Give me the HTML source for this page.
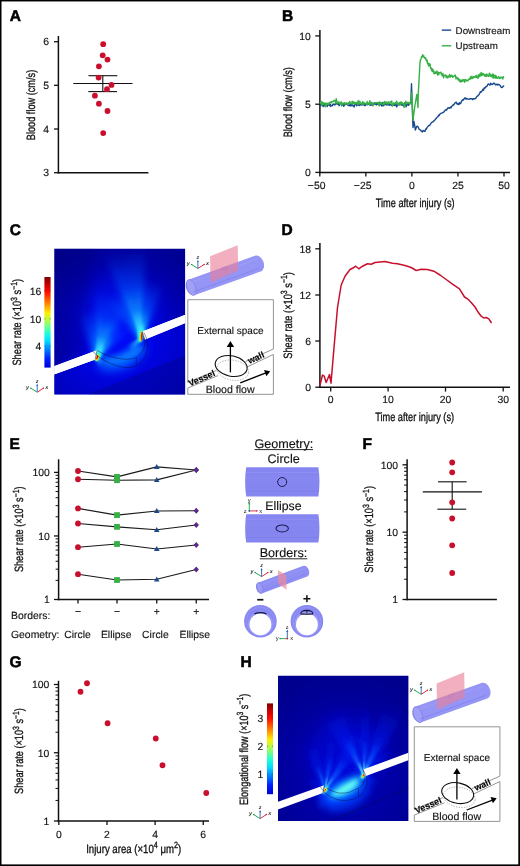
<!DOCTYPE html><html><head><meta charset="utf-8"><title>Figure</title><style>html,body{margin:0;padding:0;background:#fff;}svg{display:block;will-change:transform;font-family:"Liberation Sans",sans-serif;}text{text-rendering:geometricPrecision;stroke:#111;stroke-width:0.14px;}text.ns{stroke:none;}</style></head><body><svg width="520" height="866" viewBox="0 0 520 866"><rect x="0" y="0" width="520" height="866" fill="#fff"/>
<text x="9.70" y="21.40" font-size="15.5" text-anchor="start" font-weight="bold" fill="#000" style="stroke:#000;stroke-width:0.55px">A</text>
<text x="282.00" y="21.40" font-size="15.5" text-anchor="start" font-weight="bold" fill="#000" style="stroke:#000;stroke-width:0.55px">B</text>
<text x="9.70" y="235.00" font-size="15.5" text-anchor="start" font-weight="bold" fill="#000" style="stroke:#000;stroke-width:0.55px">C</text>
<text x="281.60" y="234.80" font-size="15.5" text-anchor="start" font-weight="bold" fill="#000" style="stroke:#000;stroke-width:0.55px">D</text>
<text x="9.40" y="449.30" font-size="15.5" text-anchor="start" font-weight="bold" fill="#000" style="stroke:#000;stroke-width:0.55px">E</text>
<text x="362.40" y="449.30" font-size="15.5" text-anchor="start" font-weight="bold" fill="#000" style="stroke:#000;stroke-width:0.55px">F</text>
<text x="9.60" y="667.20" font-size="15.5" text-anchor="start" font-weight="bold" fill="#000" style="stroke:#000;stroke-width:0.55px">G</text>
<text x="240.40" y="667.20" font-size="15.5" text-anchor="start" font-weight="bold" fill="#000" style="stroke:#000;stroke-width:0.55px">H</text>
<line x1="58.40" y1="36.00" x2="58.40" y2="173.45" stroke="#111" stroke-width="1.5" />
<line x1="57.70" y1="172.70" x2="148.40" y2="172.70" stroke="#111" stroke-width="1.5" />
<line x1="54.00" y1="41.70" x2="58.40" y2="41.70" stroke="#111" stroke-width="1.3" />
<text x="49.10" y="45.45" font-size="10.4" text-anchor="end" fill="#111" >6</text>
<line x1="54.00" y1="85.30" x2="58.40" y2="85.30" stroke="#111" stroke-width="1.3" />
<text x="49.10" y="89.05" font-size="10.4" text-anchor="end" fill="#111" >5</text>
<line x1="54.00" y1="129.00" x2="58.40" y2="129.00" stroke="#111" stroke-width="1.3" />
<text x="49.10" y="132.75" font-size="10.4" text-anchor="end" fill="#111" >4</text>
<line x1="54.00" y1="172.70" x2="58.40" y2="172.70" stroke="#111" stroke-width="1.3" />
<text x="49.10" y="176.45" font-size="10.4" text-anchor="end" fill="#111" >3</text>
<line x1="73.30" y1="83.50" x2="132.50" y2="83.50" stroke="#111" stroke-width="1.1" />
<line x1="88.50" y1="75.70" x2="117.30" y2="75.70" stroke="#111" stroke-width="1.1" />
<line x1="88.30" y1="91.60" x2="117.00" y2="91.60" stroke="#111" stroke-width="1.1" />
<line x1="102.80" y1="75.70" x2="102.80" y2="91.60" stroke="#111" stroke-width="1.1" />
<circle cx="103.20" cy="44.20" r="2.9" fill="#c8102e"/>
<circle cx="102.70" cy="55.30" r="2.9" fill="#c8102e"/>
<circle cx="107.50" cy="59.60" r="2.9" fill="#c8102e"/>
<circle cx="98.90" cy="66.30" r="2.9" fill="#c8102e"/>
<circle cx="98.60" cy="77.60" r="2.9" fill="#c8102e"/>
<circle cx="111.50" cy="84.90" r="2.9" fill="#c8102e"/>
<circle cx="107.00" cy="89.20" r="2.9" fill="#c8102e"/>
<circle cx="94.90" cy="95.70" r="2.9" fill="#c8102e"/>
<circle cx="98.90" cy="103.70" r="2.9" fill="#c8102e"/>
<circle cx="107.50" cy="111.00" r="2.9" fill="#c8102e"/>
<circle cx="103.20" cy="133.10" r="2.9" fill="#c8102e"/>
<g transform="translate(34.50,105.00) rotate(-90) scale(0.7650,1)"><text x="0" y="0" font-size="12" text-anchor="middle" fill="#111" style="stroke-width:0.32px">Blood flow (cm/s)</text></g>
<line x1="319.90" y1="30.10" x2="319.90" y2="173.15" stroke="#111" stroke-width="1.5" />
<line x1="319.20" y1="172.40" x2="510.00" y2="172.40" stroke="#111" stroke-width="1.5" />
<line x1="315.30" y1="35.90" x2="319.90" y2="35.90" stroke="#111" stroke-width="1.3" />
<text x="310.70" y="39.65" font-size="10.4" text-anchor="end" fill="#111" >10</text>
<line x1="315.30" y1="104.20" x2="319.90" y2="104.20" stroke="#111" stroke-width="1.3" />
<text x="310.70" y="107.95" font-size="10.4" text-anchor="end" fill="#111" >5</text>
<line x1="315.30" y1="172.40" x2="319.90" y2="172.40" stroke="#111" stroke-width="1.3" />
<text x="310.70" y="176.15" font-size="10.4" text-anchor="end" fill="#111" >0</text>
<line x1="319.80" y1="172.40" x2="319.80" y2="176.60" stroke="#111" stroke-width="1.3" />
<text x="319.80" y="189.20" font-size="10.4" text-anchor="middle" fill="#111" >50</text>
<text x="313.72" y="189.20" font-size="10.4" text-anchor="end" fill="#111" >−</text>
<line x1="365.85" y1="172.40" x2="365.85" y2="176.60" stroke="#111" stroke-width="1.3" />
<text x="365.85" y="189.20" font-size="10.4" text-anchor="middle" fill="#111" >25</text>
<text x="359.77" y="189.20" font-size="10.4" text-anchor="end" fill="#111" >−</text>
<line x1="411.90" y1="172.40" x2="411.90" y2="176.60" stroke="#111" stroke-width="1.3" />
<text x="411.90" y="189.20" font-size="10.4" text-anchor="middle" fill="#111" >0</text>
<line x1="457.95" y1="172.40" x2="457.95" y2="176.60" stroke="#111" stroke-width="1.3" />
<text x="457.95" y="189.20" font-size="10.4" text-anchor="middle" fill="#111" >25</text>
<line x1="504.00" y1="172.40" x2="504.00" y2="176.60" stroke="#111" stroke-width="1.3" />
<text x="504.00" y="189.20" font-size="10.4" text-anchor="middle" fill="#111" >50</text>
<g transform="translate(415.20,206.90) scale(0.7667,1)"><text x="0" y="0" font-size="12" text-anchor="middle" fill="#111" style="stroke-width:0.32px">Time after injury (s)</text></g>
<g transform="translate(291.80,102.20) rotate(-90) scale(0.7628,1)"><text x="0" y="0" font-size="12" text-anchor="middle" fill="#111" style="stroke-width:0.32px">Blood flow (cm/s)</text></g>
<line x1="441.80" y1="30.10" x2="451.20" y2="30.10" stroke="#184a8e" stroke-width="1.4" />
<text x="455.60" y="33.60" font-size="9.75" text-anchor="start" fill="#111" >Downstream</text>
<line x1="441.80" y1="45.80" x2="451.20" y2="45.80" stroke="#37b046" stroke-width="1.4" />
<text x="455.60" y="49.30" font-size="9.75" text-anchor="start" fill="#111" >Upstream</text>
<path d="M320.2,106.0 L320.8,104.0 L321.2,104.1 L321.8,103.7 L322.2,105.6 L322.8,102.7 L323.2,106.6 L323.8,104.3 L324.2,105.4 L324.8,104.9 L325.2,106.6 L325.8,103.3 L326.2,105.0 L326.8,105.0 L327.2,106.5 L327.8,104.4 L328.2,105.2 L328.8,104.5 L329.2,105.3 L329.8,105.8 L330.2,104.1 L330.8,106.2 L331.2,105.9 L331.8,105.5 L332.2,105.8 L332.8,104.2 L333.2,104.7 L333.8,103.9 L334.2,104.4 L334.8,105.1 L335.2,103.9 L335.8,104.1 L336.2,103.8 L336.8,103.6 L337.2,103.7 L337.8,104.3 L338.2,103.1 L338.8,104.4 L339.2,105.7 L339.8,104.7 L340.2,103.8 L340.8,103.2 L341.2,103.4 L341.8,105.7 L342.2,104.2 L342.8,103.6 L343.2,104.4 L343.8,106.3 L344.2,104.5 L344.8,105.0 L345.2,104.7 L345.8,104.1 L346.2,103.4 L346.8,104.2 L347.2,104.4 L347.8,105.2 L348.2,105.5 L348.8,105.6 L349.2,105.0 L349.8,105.6 L350.2,104.1 L350.8,106.1 L351.2,105.4 L351.8,104.7 L352.2,105.4 L352.8,104.9 L353.2,106.0 L353.8,106.4 L354.2,107.0 L354.8,103.6 L355.2,103.5 L355.8,104.4 L356.2,105.0 L356.8,105.7 L357.2,105.1 L357.8,102.9 L358.2,104.5 L358.8,105.5 L359.2,104.9 L359.8,105.4 L360.2,104.5 L360.8,104.5 L361.2,104.8 L361.8,105.0 L362.2,104.8 L362.8,104.7 L363.2,103.9 L363.8,104.9 L364.2,104.6 L364.8,105.6 L365.2,105.6 L365.8,104.6 L366.2,104.1 L366.8,103.8 L367.2,104.8 L367.8,104.5 L368.2,104.0 L368.8,104.4 L369.2,103.7 L369.8,105.0 L370.2,103.9 L370.8,105.4 L371.2,104.6 L371.8,104.8 L372.2,103.2 L372.8,104.4 L373.2,104.9 L373.8,103.2 L374.2,103.9 L374.8,104.1 L375.2,102.8 L375.8,104.4 L376.2,104.9 L376.8,103.2 L377.2,104.3 L377.8,102.8 L378.2,104.0 L378.8,102.5 L379.2,105.1 L379.8,104.5 L380.2,104.1 L380.8,103.4 L381.2,105.4 L381.8,106.0 L382.2,102.4 L382.8,105.4 L383.2,105.8 L383.8,104.6 L384.2,103.1 L384.8,105.1 L385.2,104.1 L385.8,103.8 L386.2,103.2 L386.8,104.9 L387.2,105.1 L387.8,103.8 L388.2,104.9 L388.8,103.4 L389.2,105.2 L389.8,104.5 L390.2,104.3 L390.8,104.4 L391.2,105.4 L391.8,105.3 L392.2,105.1 L392.8,104.8 L393.2,104.7 L393.8,105.3 L394.2,104.9 L394.8,105.4 L395.2,104.5 L395.8,102.5 L396.2,105.8 L396.8,106.9 L397.2,105.3 L397.8,104.8 L398.2,104.8 L398.8,104.8 L399.2,105.0 L399.8,103.9 L400.2,104.5 L400.8,104.0 L401.2,105.1 L401.8,104.5 L402.2,105.2 L402.8,104.6 L403.2,105.6 L403.8,104.8 L404.2,106.7 L404.8,102.7 L405.2,103.9 L405.8,105.3 L406.2,106.8 L406.8,104.1 L407.2,104.3 L407.8,104.0 L408.2,105.4 L408.8,103.9 L409.2,104.7 L409.8,103.7 L410.8,102.5 L411.5,83.8 L412.2,105.0 L413.0,127.5 L414.0,121.5 L414.6,124.9 L415.3,130.0 L415.9,128.4 L416.6,126.4 L417.2,126.3 L417.9,126.5 L418.6,128.0 L419.2,129.3 L419.8,129.6 L420.5,129.8 L421.1,130.9 L421.8,131.4 L422.4,131.9 L423.1,130.5 L423.8,130.7 L424.4,131.3 L425.0,131.4 L425.7,128.9 L426.3,129.2 L427.0,127.6 L427.6,126.9 L428.3,126.1 L428.9,125.5 L429.6,125.5 L430.2,124.6 L430.9,123.4 L431.5,122.6 L432.2,122.2 L432.8,121.7 L433.5,121.6 L434.1,120.4 L434.8,120.2 L435.4,119.3 L436.1,118.5 L436.7,117.8 L437.4,116.9 L438.0,116.6 L438.7,115.0 L439.3,115.4 L440.0,114.0 L440.6,113.5 L441.3,113.4 L441.9,113.0 L442.6,112.6 L443.2,112.5 L443.9,111.9 L444.5,111.1 L445.2,110.2 L445.8,109.8 L446.5,110.1 L447.1,109.1 L447.8,108.0 L448.4,108.0 L449.1,107.7 L449.7,108.2 L450.4,107.1 L451.0,107.8 L451.7,106.5 L452.3,105.7 L453.0,104.9 L453.6,105.1 L454.3,103.8 L454.9,102.9 L455.6,102.9 L456.2,102.0 L456.9,103.7 L457.5,104.2 L458.2,103.4 L458.8,104.6 L459.5,102.7 L460.1,103.8 L460.8,103.3 L461.4,101.6 L462.1,100.5 L462.7,99.7 L463.4,100.1 L464.0,98.9 L464.7,98.0 L465.3,97.9 L466.0,99.2 L466.6,98.5 L467.3,98.8 L467.9,99.0 L468.6,99.2 L469.2,99.4 L469.9,98.6 L470.5,98.9 L471.2,98.6 L471.8,98.6 L472.5,99.6 L473.1,98.7 L473.8,99.0 L474.4,98.7 L475.1,98.6 L475.7,98.5 L476.4,97.1 L477.0,96.3 L477.7,96.0 L478.3,95.2 L479.0,94.6 L479.6,93.5 L480.3,91.8 L480.9,92.2 L481.6,91.3 L482.2,90.8 L482.9,89.2 L483.5,90.3 L484.2,87.9 L484.8,88.2 L485.5,87.3 L486.1,86.5 L486.8,86.5 L487.4,85.4 L488.1,84.0 L488.7,84.2 L489.4,84.6 L490.0,85.1 L490.7,83.2 L491.3,83.9 L492.0,84.6 L492.6,84.1 L493.3,83.6 L493.9,83.2 L494.6,83.5 L495.2,84.4 L495.9,85.1 L496.5,84.3 L497.2,84.3 L497.8,85.0 L498.5,84.4 L499.1,84.5 L499.8,85.3 L500.4,85.8 L501.1,87.3 L501.7,87.5 L502.4,87.3 L503.0,86.3 L503.7,85.9" fill="none" stroke="#184a8e" stroke-width="1.4" stroke-linejoin="round" stroke-linecap="round"/>
<path d="M320.2,103.1 L320.8,103.5 L321.2,101.5 L321.8,105.4 L322.2,102.0 L322.8,103.1 L323.2,104.5 L323.8,102.8 L324.2,103.1 L324.8,103.3 L325.2,104.9 L325.8,106.7 L326.2,104.5 L326.8,103.2 L327.2,104.6 L327.8,103.3 L328.2,103.7 L328.8,104.7 L329.2,102.6 L329.8,103.1 L330.2,102.0 L330.8,102.5 L331.2,102.8 L331.8,101.4 L332.2,101.9 L332.8,101.8 L333.2,101.3 L333.8,100.6 L334.2,100.2 L334.8,101.3 L335.2,101.0 L335.8,103.4 L336.2,98.6 L336.8,101.4 L337.2,102.0 L337.8,103.4 L338.2,102.8 L338.8,101.8 L339.2,103.0 L339.8,103.9 L340.2,103.2 L340.8,104.3 L341.2,101.6 L341.8,105.2 L342.2,104.9 L342.8,103.1 L343.2,104.0 L343.8,103.5 L344.2,102.6 L344.8,103.5 L345.2,104.4 L345.8,103.0 L346.2,103.0 L346.8,103.3 L347.2,103.8 L347.8,104.6 L348.2,102.7 L348.8,103.8 L349.2,103.5 L349.8,101.4 L350.2,102.9 L350.8,103.2 L351.2,103.2 L351.8,103.6 L352.2,101.2 L352.8,103.3 L353.2,102.6 L353.8,101.8 L354.2,103.7 L354.8,103.9 L355.2,102.5 L355.8,104.0 L356.2,102.8 L356.8,103.2 L357.2,102.1 L357.8,104.7 L358.2,100.5 L358.8,103.0 L359.2,103.8 L359.8,101.1 L360.2,102.9 L360.8,103.0 L361.2,103.9 L361.8,104.3 L362.2,102.7 L362.8,101.7 L363.2,104.4 L363.8,104.2 L364.2,102.6 L364.8,103.4 L365.2,103.4 L365.8,103.6 L366.2,103.3 L366.8,104.5 L367.2,101.4 L367.8,104.2 L368.2,103.5 L368.8,102.9 L369.2,104.3 L369.8,100.8 L370.2,104.4 L370.8,103.6 L371.2,102.1 L371.8,103.7 L372.2,103.0 L372.8,105.9 L373.2,105.2 L373.8,103.8 L374.2,102.7 L374.8,102.8 L375.2,103.1 L375.8,102.9 L376.2,102.5 L376.8,102.9 L377.2,103.2 L377.8,103.0 L378.2,102.8 L378.8,102.5 L379.2,106.0 L379.8,101.9 L380.2,102.4 L380.8,103.8 L381.2,103.0 L381.8,103.8 L382.2,104.1 L382.8,104.6 L383.2,104.0 L383.8,102.3 L384.2,104.3 L384.8,101.4 L385.2,103.1 L385.8,102.7 L386.2,102.1 L386.8,103.7 L387.2,102.9 L387.8,104.1 L388.2,101.6 L388.8,103.9 L389.2,103.5 L389.8,103.1 L390.2,101.6 L390.8,102.8 L391.2,101.5 L391.8,101.0 L392.2,106.3 L392.8,104.0 L393.2,104.9 L393.8,102.7 L394.2,103.8 L394.8,103.8 L395.2,103.7 L395.8,103.1 L396.2,102.9 L396.8,101.1 L397.2,103.8 L397.8,103.6 L398.2,104.3 L398.8,102.9 L399.2,105.0 L399.8,102.8 L400.2,102.0 L400.8,104.2 L401.2,102.8 L401.8,102.0 L402.2,103.3 L402.8,103.9 L403.2,103.4 L403.8,103.7 L404.2,107.3 L404.8,104.0 L405.2,104.7 L405.8,101.1 L406.2,103.5 L406.8,103.9 L407.2,102.7 L407.8,102.2 L408.2,103.4 L408.8,102.7 L409.2,102.4 L409.8,104.2 L411.0,101.2 L411.8,92.5 L413.0,120.0 L415.0,105.0 L416.8,94.5 L418.0,107.5 L418.2,95.0 L420.0,62.9 L420.4,59.8 L420.8,59.4 L421.1,58.8 L421.5,56.7 L421.9,57.1 L422.2,56.7 L422.6,54.6 L423.0,57.0 L423.4,56.5 L423.8,55.8 L424.1,56.8 L424.5,58.0 L424.9,57.8 L425.2,58.3 L425.6,57.7 L426.0,60.2 L426.4,60.3 L426.8,61.1 L427.1,59.9 L427.5,63.7 L427.9,62.9 L428.2,62.9 L428.6,66.0 L429.0,64.5 L429.4,63.8 L429.8,65.4 L430.1,64.2 L430.5,68.3 L430.9,67.6 L431.2,68.0 L431.6,70.6 L432.0,68.6 L432.4,71.5 L432.8,69.3 L433.1,70.9 L433.5,70.5 L433.9,73.4 L434.2,73.8 L434.6,71.9 L435.0,73.3 L435.4,72.4 L435.8,73.3 L436.1,72.2 L436.5,71.3 L436.9,71.1 L437.2,73.2 L437.6,75.1 L438.0,73.0 L438.4,72.2 L438.8,74.6 L439.1,72.9 L439.5,72.7 L439.9,72.8 L440.2,72.6 L440.6,72.8 L441.0,72.1 L441.4,74.4 L441.8,74.2 L442.1,75.8 L442.5,74.6 L442.9,73.5 L443.2,75.7 L443.6,77.8 L444.0,75.9 L444.4,75.4 L444.8,75.1 L445.1,75.2 L445.5,75.9 L445.9,75.1 L446.2,77.7 L446.6,76.0 L447.0,76.4 L447.4,77.7 L447.8,77.8 L448.1,76.0 L448.5,76.6 L448.9,77.0 L449.2,76.1 L449.6,74.5 L450.0,76.9 L450.4,77.1 L450.8,76.6 L451.1,75.2 L451.5,75.8 L451.9,75.4 L452.2,75.6 L452.6,77.2 L453.0,77.3 L453.4,76.4 L453.8,76.2 L454.1,76.3 L454.5,75.6 L454.9,75.4 L455.2,75.1 L455.6,76.2 L456.0,79.0 L456.4,78.0 L456.8,77.3 L457.1,77.6 L457.5,77.6 L457.9,79.3 L458.2,79.8 L458.6,78.4 L459.0,80.5 L459.4,79.6 L459.8,81.6 L460.1,80.4 L460.5,82.1 L460.9,80.0 L461.2,80.2 L461.6,80.9 L462.0,81.7 L462.4,81.3 L462.8,79.5 L463.1,80.8 L463.5,80.6 L463.9,80.1 L464.2,79.8 L464.6,82.2 L465.0,80.0 L465.4,79.5 L465.8,80.9 L466.1,80.3 L466.5,80.1 L466.9,80.9 L467.2,80.5 L467.6,80.3 L468.0,80.8 L468.4,79.9 L468.8,78.9 L469.1,79.0 L469.5,78.7 L469.9,79.3 L470.2,77.8 L470.6,76.9 L471.0,78.7 L471.4,77.1 L471.8,76.3 L472.1,78.5 L472.5,77.3 L472.9,78.4 L473.2,77.3 L473.6,76.7 L474.0,76.5 L474.4,77.1 L474.8,77.3 L475.1,76.7 L475.5,77.1 L475.9,75.8 L476.2,77.3 L476.6,75.4 L477.0,76.9 L477.4,77.7 L477.8,77.9 L478.1,78.2 L478.5,74.6 L478.9,76.6 L479.2,76.7 L479.6,76.1 L480.0,73.9 L480.4,74.9 L480.8,76.0 L481.1,72.4 L481.5,74.3 L481.9,75.2 L482.2,73.5 L482.6,75.0 L483.0,73.5 L483.4,73.9 L483.8,74.1 L484.1,75.3 L484.5,75.2 L484.9,76.4 L485.2,74.5 L485.6,75.3 L486.0,76.4 L486.4,75.9 L486.8,74.0 L487.1,76.0 L487.5,74.8 L487.9,75.6 L488.2,75.5 L488.6,76.4 L489.0,75.2 L489.4,73.2 L489.8,73.7 L490.1,75.8 L490.5,74.9 L490.9,76.5 L491.2,75.8 L491.6,74.9 L492.0,76.9 L492.4,75.1 L492.8,74.0 L493.1,78.3 L493.5,74.5 L493.9,77.2 L494.2,77.6 L494.6,77.0 L495.0,75.3 L495.4,78.1 L495.8,75.7 L496.1,75.9 L496.5,76.9 L496.9,78.2 L497.2,77.8 L497.6,78.3 L498.0,77.2 L498.4,77.5 L498.8,76.6 L499.1,77.5 L499.5,78.5 L499.9,77.7 L500.2,78.4 L500.6,77.3 L501.0,77.1 L501.4,77.7 L501.8,77.3 L502.1,78.0 L502.5,77.5 L502.9,79.0 L503.2,76.9 L503.6,76.8" fill="none" stroke="#37b046" stroke-width="1.4" stroke-linejoin="round" stroke-linecap="round"/>
<line x1="319.90" y1="243.00" x2="319.90" y2="387.95" stroke="#111" stroke-width="1.5" />
<line x1="319.20" y1="387.20" x2="510.00" y2="387.20" stroke="#111" stroke-width="1.5" />
<line x1="315.30" y1="248.80" x2="319.90" y2="248.80" stroke="#111" stroke-width="1.3" />
<text x="311.10" y="252.55" font-size="10.4" text-anchor="end" fill="#111" >18</text>
<line x1="315.30" y1="295.00" x2="319.90" y2="295.00" stroke="#111" stroke-width="1.3" />
<text x="311.10" y="298.75" font-size="10.4" text-anchor="end" fill="#111" >12</text>
<line x1="315.30" y1="341.00" x2="319.90" y2="341.00" stroke="#111" stroke-width="1.3" />
<text x="311.10" y="344.75" font-size="10.4" text-anchor="end" fill="#111" >6</text>
<line x1="315.30" y1="387.20" x2="319.90" y2="387.20" stroke="#111" stroke-width="1.3" />
<text x="311.10" y="390.95" font-size="10.4" text-anchor="end" fill="#111" >0</text>
<line x1="330.70" y1="387.20" x2="330.70" y2="391.60" stroke="#111" stroke-width="1.3" />
<text x="330.70" y="403.40" font-size="10.4" text-anchor="middle" fill="#111" >0</text>
<line x1="388.10" y1="387.20" x2="388.10" y2="391.60" stroke="#111" stroke-width="1.3" />
<text x="388.10" y="403.40" font-size="10.4" text-anchor="middle" fill="#111" >10</text>
<line x1="445.50" y1="387.20" x2="445.50" y2="391.60" stroke="#111" stroke-width="1.3" />
<text x="445.50" y="403.40" font-size="10.4" text-anchor="middle" fill="#111" >20</text>
<line x1="503.20" y1="387.20" x2="503.20" y2="391.60" stroke="#111" stroke-width="1.3" />
<text x="503.20" y="403.40" font-size="10.4" text-anchor="middle" fill="#111" >30</text>
<g transform="translate(414.60,420.70) scale(0.7667,1)"><text x="0" y="0" font-size="12" text-anchor="middle" fill="#111" style="stroke-width:0.32px">Time after injury (s)</text></g>
<g transform="translate(291.90,315.40) rotate(-90) scale(0.7719,1)"><text x="0" y="0" font-size="12" text-anchor="middle" fill="#111" style="stroke-width:0.32px">Shear rate (×10<tspan dy="-4.6" font-size="9">3</tspan><tspan dy="4.6"> s</tspan><tspan dy="-4.6" font-size="9">−1</tspan><tspan dy="4.6">)</tspan></text></g>
<path d="M320.0,385.0 L322.5,375.0 L324.2,376.2 L326.2,382.5 L329.5,374.5 L331.0,383.2 L333.8,350.0 L337.5,307.5 L341.2,285.0 L345.0,276.2 L350.0,269.5 L353.0,268.0 L355.8,266.2 L358.8,268.8 L362.5,266.2 L367.5,263.8 L371.2,264.2 L375.0,262.5 L385.0,261.5 L392.5,263.2 L397.5,263.8 L405.0,265.5 L397.5,263.8 L405.0,265.5 L411.2,267.5 L416.2,270.5 L421.2,269.2 L427.5,269.5 L433.8,271.2 L440.0,275.0 L446.2,279.5 L452.5,284.2 L459.5,288.8 L464.5,297.0 L468.0,299.2 L471.2,302.5 L475.0,307.0 L477.5,311.2 L481.2,316.2 L483.8,318.0 L486.2,317.5 L488.8,318.8 L491.2,322.5" fill="none" stroke="#c8102e" stroke-width="1.5" stroke-linejoin="round" stroke-linecap="round"/>
<line x1="58.60" y1="459.30" x2="58.60" y2="600.25" stroke="#111" stroke-width="1.5" />
<line x1="57.90" y1="599.50" x2="209.00" y2="599.50" stroke="#111" stroke-width="1.5" />
<line x1="54.00" y1="599.50" x2="58.60" y2="599.50" stroke="#111" stroke-width="1.3" /><line x1="55.60" y1="580.37" x2="58.60" y2="580.37" stroke="#111" stroke-width="1.0" /><line x1="55.60" y1="569.18" x2="58.60" y2="569.18" stroke="#111" stroke-width="1.0" /><line x1="55.60" y1="561.24" x2="58.60" y2="561.24" stroke="#111" stroke-width="1.0" /><line x1="55.60" y1="555.08" x2="58.60" y2="555.08" stroke="#111" stroke-width="1.0" /><line x1="55.60" y1="550.05" x2="58.60" y2="550.05" stroke="#111" stroke-width="1.0" /><line x1="55.60" y1="545.79" x2="58.60" y2="545.79" stroke="#111" stroke-width="1.0" /><line x1="55.60" y1="542.11" x2="58.60" y2="542.11" stroke="#111" stroke-width="1.0" /><line x1="55.60" y1="538.86" x2="58.60" y2="538.86" stroke="#111" stroke-width="1.0" /><line x1="54.00" y1="535.95" x2="58.60" y2="535.95" stroke="#111" stroke-width="1.3" /><line x1="55.60" y1="516.82" x2="58.60" y2="516.82" stroke="#111" stroke-width="1.0" /><line x1="55.60" y1="505.63" x2="58.60" y2="505.63" stroke="#111" stroke-width="1.0" /><line x1="55.60" y1="497.69" x2="58.60" y2="497.69" stroke="#111" stroke-width="1.0" /><line x1="55.60" y1="491.53" x2="58.60" y2="491.53" stroke="#111" stroke-width="1.0" /><line x1="55.60" y1="486.50" x2="58.60" y2="486.50" stroke="#111" stroke-width="1.0" /><line x1="55.60" y1="482.24" x2="58.60" y2="482.24" stroke="#111" stroke-width="1.0" /><line x1="55.60" y1="478.56" x2="58.60" y2="478.56" stroke="#111" stroke-width="1.0" /><line x1="55.60" y1="475.31" x2="58.60" y2="475.31" stroke="#111" stroke-width="1.0" /><line x1="54.00" y1="472.40" x2="58.60" y2="472.40" stroke="#111" stroke-width="1.3" />
<text x="49.80" y="476.15" font-size="10.4" text-anchor="end" fill="#111" >100</text>
<text x="49.80" y="539.70" font-size="10.4" text-anchor="end" fill="#111" >10</text>
<text x="49.80" y="603.25" font-size="10.4" text-anchor="end" fill="#111" >1</text>
<line x1="78.00" y1="599.50" x2="78.00" y2="603.50" stroke="#111" stroke-width="1.3" />
<line x1="117.00" y1="599.50" x2="117.00" y2="603.50" stroke="#111" stroke-width="1.3" />
<line x1="156.75" y1="599.50" x2="156.75" y2="603.50" stroke="#111" stroke-width="1.3" />
<line x1="196.25" y1="599.50" x2="196.25" y2="603.50" stroke="#111" stroke-width="1.3" />
<path d="M78.0,471.0 L117.0,476.9 L156.8,466.9 L196.2,470.0" fill="none" stroke="#1a1a1a" stroke-width="1.1" stroke-linejoin="round" stroke-linecap="round"/>
<path d="M78.0,479.2 L117.0,480.2 L156.8,479.9 L196.2,470.0" fill="none" stroke="#1a1a1a" stroke-width="1.1" stroke-linejoin="round" stroke-linecap="round"/>
<path d="M78.0,508.4 L117.0,515.1 L156.8,511.0 L196.2,510.8" fill="none" stroke="#1a1a1a" stroke-width="1.1" stroke-linejoin="round" stroke-linecap="round"/>
<path d="M78.0,523.5 L117.0,526.9 L156.8,529.8 L196.2,525.0" fill="none" stroke="#1a1a1a" stroke-width="1.1" stroke-linejoin="round" stroke-linecap="round"/>
<path d="M78.0,547.2 L117.0,544.0 L156.8,549.0 L196.2,545.0" fill="none" stroke="#1a1a1a" stroke-width="1.1" stroke-linejoin="round" stroke-linecap="round"/>
<path d="M78.0,574.2 L117.0,580.0 L156.8,579.3 L196.2,569.5" fill="none" stroke="#1a1a1a" stroke-width="1.1" stroke-linejoin="round" stroke-linecap="round"/>
<circle cx="78.00" cy="471.00" r="2.9" fill="#c8102e"/>
<circle cx="78.00" cy="479.25" r="2.9" fill="#c8102e"/>
<circle cx="78.00" cy="508.40" r="2.9" fill="#c8102e"/>
<circle cx="78.00" cy="523.50" r="2.9" fill="#c8102e"/>
<circle cx="78.00" cy="547.20" r="2.9" fill="#c8102e"/>
<circle cx="78.00" cy="574.20" r="2.9" fill="#c8102e"/>
<rect x="114.10" y="474.00" width="5.8" height="5.8" fill="#37b046"/>
<rect x="114.10" y="477.30" width="5.8" height="5.8" fill="#37b046"/>
<rect x="114.10" y="512.20" width="5.8" height="5.8" fill="#37b046"/>
<rect x="114.10" y="523.95" width="5.8" height="5.8" fill="#37b046"/>
<rect x="114.10" y="541.10" width="5.8" height="5.8" fill="#37b046"/>
<rect x="114.10" y="577.10" width="5.8" height="5.8" fill="#37b046"/>
<path d="M153.95,468.95 L159.55,468.95 L156.75,463.95 Z" fill="#184a8e"/>
<path d="M153.95,481.95 L159.55,481.95 L156.75,476.95 Z" fill="#184a8e"/>
<path d="M153.95,513.10 L159.55,513.10 L156.75,508.10 Z" fill="#184a8e"/>
<path d="M153.95,531.90 L159.55,531.90 L156.75,526.90 Z" fill="#184a8e"/>
<path d="M153.95,551.10 L159.55,551.10 L156.75,546.10 Z" fill="#184a8e"/>
<path d="M153.95,581.40 L159.55,581.40 L156.75,576.40 Z" fill="#184a8e"/>
<path d="M193.55,470.00 L196.25,467.10 L198.95,470.00 L196.25,472.90 Z" fill="#5a2a86"/>
<path d="M193.55,470.00 L196.25,467.10 L198.95,470.00 L196.25,472.90 Z" fill="#5a2a86"/>
<path d="M193.55,510.75 L196.25,507.85 L198.95,510.75 L196.25,513.65 Z" fill="#5a2a86"/>
<path d="M193.55,525.00 L196.25,522.10 L198.95,525.00 L196.25,527.90 Z" fill="#5a2a86"/>
<path d="M193.55,545.00 L196.25,542.10 L198.95,545.00 L196.25,547.90 Z" fill="#5a2a86"/>
<path d="M193.55,569.50 L196.25,566.60 L198.95,569.50 L196.25,572.40 Z" fill="#5a2a86"/>
<g transform="translate(23.20,529.30) rotate(-90) scale(0.7621,1)"><text x="0" y="0" font-size="12" text-anchor="middle" fill="#111" style="stroke-width:0.32px">Shear rate (×10<tspan dy="-4.6" font-size="9">3</tspan><tspan dy="4.6"> s</tspan><tspan dy="-4.6" font-size="9">−1</tspan><tspan dy="4.6">)</tspan></text></g>
<text x="11.00" y="618.80" font-size="10.4" text-anchor="start" fill="#111" >Borders:</text>
<text x="11.00" y="637.60" font-size="10.4" text-anchor="start" fill="#111" >Geometry:</text>
<text x="78.00" y="615.20" font-size="10.4" text-anchor="middle" fill="#111" >−</text>
<text x="117.00" y="615.20" font-size="10.4" text-anchor="middle" fill="#111" >−</text>
<text x="156.75" y="615.20" font-size="10.4" text-anchor="middle" fill="#111" >+</text>
<text x="196.25" y="615.20" font-size="10.4" text-anchor="middle" fill="#111" >+</text>
<text x="77.50" y="637.60" font-size="10.4" text-anchor="middle" fill="#111" >Circle</text>
<text x="116.20" y="637.60" font-size="10.4" text-anchor="middle" fill="#111" >Ellipse</text>
<text x="155.40" y="637.60" font-size="10.4" text-anchor="middle" fill="#111" >Circle</text>
<text x="194.80" y="637.60" font-size="10.4" text-anchor="middle" fill="#111" >Ellipse</text>
<line x1="407.10" y1="459.20" x2="407.10" y2="600.25" stroke="#111" stroke-width="1.5" />
<line x1="406.40" y1="599.50" x2="496.90" y2="599.50" stroke="#111" stroke-width="1.5" />
<line x1="402.50" y1="599.50" x2="407.10" y2="599.50" stroke="#111" stroke-width="1.3" /><line x1="404.10" y1="579.23" x2="407.10" y2="579.23" stroke="#111" stroke-width="1.0" /><line x1="404.10" y1="567.37" x2="407.10" y2="567.37" stroke="#111" stroke-width="1.0" /><line x1="404.10" y1="558.95" x2="407.10" y2="558.95" stroke="#111" stroke-width="1.0" /><line x1="404.10" y1="552.42" x2="407.10" y2="552.42" stroke="#111" stroke-width="1.0" /><line x1="404.10" y1="547.09" x2="407.10" y2="547.09" stroke="#111" stroke-width="1.0" /><line x1="404.10" y1="542.58" x2="407.10" y2="542.58" stroke="#111" stroke-width="1.0" /><line x1="404.10" y1="538.68" x2="407.10" y2="538.68" stroke="#111" stroke-width="1.0" /><line x1="404.10" y1="535.23" x2="407.10" y2="535.23" stroke="#111" stroke-width="1.0" /><line x1="402.50" y1="532.15" x2="407.10" y2="532.15" stroke="#111" stroke-width="1.3" /><line x1="404.10" y1="511.88" x2="407.10" y2="511.88" stroke="#111" stroke-width="1.0" /><line x1="404.10" y1="500.02" x2="407.10" y2="500.02" stroke="#111" stroke-width="1.0" /><line x1="404.10" y1="491.60" x2="407.10" y2="491.60" stroke="#111" stroke-width="1.0" /><line x1="404.10" y1="485.07" x2="407.10" y2="485.07" stroke="#111" stroke-width="1.0" /><line x1="404.10" y1="479.74" x2="407.10" y2="479.74" stroke="#111" stroke-width="1.0" /><line x1="404.10" y1="475.23" x2="407.10" y2="475.23" stroke="#111" stroke-width="1.0" /><line x1="404.10" y1="471.33" x2="407.10" y2="471.33" stroke="#111" stroke-width="1.0" /><line x1="404.10" y1="467.88" x2="407.10" y2="467.88" stroke="#111" stroke-width="1.0" /><line x1="402.50" y1="464.80" x2="407.10" y2="464.80" stroke="#111" stroke-width="1.3" />
<text x="398.00" y="468.55" font-size="10.4" text-anchor="end" fill="#111" >100</text>
<text x="398.00" y="535.90" font-size="10.4" text-anchor="end" fill="#111" >10</text>
<text x="398.00" y="603.25" font-size="10.4" text-anchor="end" fill="#111" >1</text>
<line x1="422.80" y1="491.90" x2="481.90" y2="491.90" stroke="#111" stroke-width="1.1" />
<line x1="438.00" y1="481.80" x2="466.60" y2="481.80" stroke="#111" stroke-width="1.1" />
<line x1="437.40" y1="509.20" x2="466.20" y2="509.20" stroke="#111" stroke-width="1.1" />
<line x1="452.20" y1="481.80" x2="452.20" y2="509.20" stroke="#111" stroke-width="1.1" />
<circle cx="452.20" cy="462.50" r="2.9" fill="#c8102e"/>
<circle cx="452.20" cy="472.30" r="2.9" fill="#c8102e"/>
<circle cx="452.20" cy="502.30" r="2.9" fill="#c8102e"/>
<circle cx="452.20" cy="518.50" r="2.9" fill="#c8102e"/>
<circle cx="452.20" cy="545.30" r="2.9" fill="#c8102e"/>
<circle cx="452.20" cy="573.00" r="2.9" fill="#c8102e"/>
<g transform="translate(373.20,529.30) rotate(-90) scale(0.7719,1)"><text x="0" y="0" font-size="12" text-anchor="middle" fill="#111" style="stroke-width:0.32px">Shear rate (×10<tspan dy="-4.6" font-size="9">3</tspan><tspan dy="4.6"> s</tspan><tspan dy="-4.6" font-size="9">−1</tspan><tspan dy="4.6">)</tspan></text></g>
<line x1="58.50" y1="680.80" x2="58.50" y2="821.75" stroke="#111" stroke-width="1.5" />
<line x1="57.80" y1="821.00" x2="209.00" y2="821.00" stroke="#111" stroke-width="1.5" />
<line x1="53.90" y1="821.00" x2="58.50" y2="821.00" stroke="#111" stroke-width="1.3" /><line x1="55.50" y1="800.45" x2="58.50" y2="800.45" stroke="#111" stroke-width="1.0" /><line x1="55.50" y1="788.44" x2="58.50" y2="788.44" stroke="#111" stroke-width="1.0" /><line x1="55.50" y1="779.91" x2="58.50" y2="779.91" stroke="#111" stroke-width="1.0" /><line x1="55.50" y1="773.30" x2="58.50" y2="773.30" stroke="#111" stroke-width="1.0" /><line x1="55.50" y1="767.89" x2="58.50" y2="767.89" stroke="#111" stroke-width="1.0" /><line x1="55.50" y1="763.32" x2="58.50" y2="763.32" stroke="#111" stroke-width="1.0" /><line x1="55.50" y1="759.36" x2="58.50" y2="759.36" stroke="#111" stroke-width="1.0" /><line x1="55.50" y1="755.87" x2="58.50" y2="755.87" stroke="#111" stroke-width="1.0" /><line x1="53.90" y1="752.75" x2="58.50" y2="752.75" stroke="#111" stroke-width="1.3" /><line x1="55.50" y1="732.20" x2="58.50" y2="732.20" stroke="#111" stroke-width="1.0" /><line x1="55.50" y1="720.19" x2="58.50" y2="720.19" stroke="#111" stroke-width="1.0" /><line x1="55.50" y1="711.66" x2="58.50" y2="711.66" stroke="#111" stroke-width="1.0" /><line x1="55.50" y1="705.05" x2="58.50" y2="705.05" stroke="#111" stroke-width="1.0" /><line x1="55.50" y1="699.64" x2="58.50" y2="699.64" stroke="#111" stroke-width="1.0" /><line x1="55.50" y1="695.07" x2="58.50" y2="695.07" stroke="#111" stroke-width="1.0" /><line x1="55.50" y1="691.11" x2="58.50" y2="691.11" stroke="#111" stroke-width="1.0" /><line x1="55.50" y1="687.62" x2="58.50" y2="687.62" stroke="#111" stroke-width="1.0" /><line x1="53.90" y1="684.50" x2="58.50" y2="684.50" stroke="#111" stroke-width="1.3" />
<text x="49.40" y="688.25" font-size="10.4" text-anchor="end" fill="#111" >100</text>
<text x="49.40" y="756.50" font-size="10.4" text-anchor="end" fill="#111" >10</text>
<text x="49.40" y="824.75" font-size="10.4" text-anchor="end" fill="#111" >1</text>
<line x1="58.80" y1="821.00" x2="58.80" y2="825.00" stroke="#111" stroke-width="1.3" />
<text x="58.80" y="837.80" font-size="10.4" text-anchor="middle" fill="#111" >0</text>
<line x1="107.00" y1="821.00" x2="107.00" y2="825.00" stroke="#111" stroke-width="1.3" />
<text x="107.00" y="837.80" font-size="10.4" text-anchor="middle" fill="#111" >2</text>
<line x1="155.10" y1="821.00" x2="155.10" y2="825.00" stroke="#111" stroke-width="1.3" />
<text x="155.10" y="837.80" font-size="10.4" text-anchor="middle" fill="#111" >4</text>
<line x1="203.25" y1="821.00" x2="203.25" y2="825.00" stroke="#111" stroke-width="1.3" />
<text x="203.25" y="837.80" font-size="10.4" text-anchor="middle" fill="#111" >6</text>
<circle cx="87.00" cy="683.25" r="2.9" fill="#c8102e"/>
<circle cx="80.50" cy="691.75" r="2.9" fill="#c8102e"/>
<circle cx="107.60" cy="723.25" r="2.9" fill="#c8102e"/>
<circle cx="155.75" cy="738.50" r="2.9" fill="#c8102e"/>
<circle cx="162.50" cy="765.25" r="2.9" fill="#c8102e"/>
<circle cx="206.25" cy="793.00" r="2.9" fill="#c8102e"/>
<g transform="translate(23.20,751.00) rotate(-90) scale(0.7639,1)"><text x="0" y="0" font-size="12" text-anchor="middle" fill="#111" style="stroke-width:0.32px">Shear rate (×10<tspan dy="-4.6" font-size="9">3</tspan><tspan dy="4.6"> s</tspan><tspan dy="-4.6" font-size="9">−1</tspan><tspan dy="4.6">)</tspan></text></g>
<g transform="translate(133.7,852.5) scale(0.8008,1)"><text x="0" y="0" font-size="12" text-anchor="middle" fill="#111" style="stroke-width:0.32px">Injury area (×10<tspan dy="-4.6" font-size="9">4</tspan><tspan dy="4.6"> μm</tspan><tspan dy="-4.6" font-size="9">2</tspan><tspan dy="4.6">)</tspan></text></g>
<defs>
<linearGradient id="jet" x1="0" y1="0" x2="0" y2="1">
<stop offset="0" stop-color="#7f0000"/><stop offset="0.11" stop-color="#e00000"/><stop offset="0.17" stop-color="#ff1000"/>
<stop offset="0.30" stop-color="#ff8c00"/><stop offset="0.40" stop-color="#fff000"/><stop offset="0.52" stop-color="#8cff70"/>
<stop offset="0.62" stop-color="#20ffd8"/><stop offset="0.70" stop-color="#00e0ff"/><stop offset="0.80" stop-color="#0080ff"/>
<stop offset="0.90" stop-color="#0020ff"/><stop offset="1" stop-color="#0000d8"/></linearGradient>
<filter id="b1" x="-50%" y="-50%" width="200%" height="200%"><feGaussianBlur stdDeviation="1"/></filter>
<filter id="b2" x="-50%" y="-50%" width="200%" height="200%"><feGaussianBlur stdDeviation="2"/></filter>
<filter id="b3" x="-50%" y="-50%" width="200%" height="200%"><feGaussianBlur stdDeviation="3.2"/></filter>
<filter id="b5" x="-50%" y="-50%" width="200%" height="200%"><feGaussianBlur stdDeviation="5"/></filter>
<filter id="b8" x="-50%" y="-50%" width="200%" height="200%"><feGaussianBlur stdDeviation="9"/></filter>
<filter id="b14" x="-50%" y="-50%" width="200%" height="200%"><feGaussianBlur stdDeviation="15"/></filter>
<filter id="b05" x="-50%" y="-50%" width="200%" height="200%"><feGaussianBlur stdDeviation="0.5"/></filter>
<radialGradient id="bgC" gradientUnits="userSpaceOnUse" cx="118" cy="336" r="100"><stop offset="0" stop-color="#0004fa"/><stop offset="0.25" stop-color="#0000e6"/><stop offset="0.5" stop-color="#0000c6"/><stop offset="0.8" stop-color="#0000a2"/><stop offset="1" stop-color="#000094"/></radialGradient>
<radialGradient id="bgH" gradientUnits="userSpaceOnUse" cx="345" cy="770" r="100"><stop offset="0" stop-color="#0000be"/><stop offset="0.4" stop-color="#0000aa"/><stop offset="0.8" stop-color="#000096"/><stop offset="1" stop-color="#00008e"/></radialGradient>
<clipPath id="clipC"><rect x="54.3" y="248.8" width="130.8" height="145.8"/></clipPath>
<clipPath id="clipH"><rect x="278.0" y="675.8" width="130.4" height="145.1"/></clipPath>
<radialGradient id="hot"><stop offset="0" stop-color="#d00000"/><stop offset="0.3" stop-color="#ff5000"/><stop offset="0.55" stop-color="#ffe800"/><stop offset="0.8" stop-color="#40ffb0" stop-opacity="0.8"/><stop offset="1" stop-color="#00c0ff" stop-opacity="0"/></radialGradient>
</defs>
<g clip-path="url(#clipC)"><rect x="54" y="248" width="132" height="147" fill="url(#bgC)"/><path d="M50,376 L100,357.5 L142,340 L190,321.5 L190,400 L50,400 Z" fill="#0010ff" opacity="0.30" filter="url(#b2)"/><path d="M84,398 L190,355.5 L190,400 Z" fill="#000078" opacity="0.30"/><path d="M50,244 L96,244 L84,352 L50,364 Z" fill="#000070" opacity="0.28" filter="url(#b5)"/><ellipse cx="120" cy="312" rx="36" ry="34" fill="#0020ff" opacity="0.32" filter="url(#b8)"/><linearGradient id="rg1" gradientUnits="userSpaceOnUse" x1="97.0" y1="356.0" x2="114.6" y2="294.5"><stop offset="0" stop-color="#0068ff" stop-opacity="1.0"/><stop offset="0.45" stop-color="#0068ff" stop-opacity="0.55"/><stop offset="1" stop-color="#0068ff" stop-opacity="0"/></linearGradient><path d="M94.6,355.3 L96.4,289.2 L132.9,299.7 L99.4,356.7 Z" fill="url(#rg1)" filter="url(#b3)"/><linearGradient id="rg2" gradientUnits="userSpaceOnUse" x1="97.0" y1="356.0" x2="121.6" y2="324.5"><stop offset="0" stop-color="#0068ff" stop-opacity="1.0"/><stop offset="0.45" stop-color="#0068ff" stop-opacity="0.55"/><stop offset="1" stop-color="#0068ff" stop-opacity="0"/></linearGradient><path d="M95.0,354.5 L113.7,318.3 L129.5,330.6 L99.0,357.5 Z" fill="url(#rg2)" filter="url(#b3)"/><linearGradient id="rg3" gradientUnits="userSpaceOnUse" x1="97.0" y1="356.0" x2="89.0" y2="310.7"><stop offset="0" stop-color="#0068ff" stop-opacity="1.0"/><stop offset="0.45" stop-color="#0068ff" stop-opacity="0.55"/><stop offset="1" stop-color="#0068ff" stop-opacity="0"/></linearGradient><path d="M94.5,356.4 L79.2,312.4 L98.9,309.0 L99.5,355.6 Z" fill="url(#rg3)" filter="url(#b3)"/><linearGradient id="rg4" gradientUnits="userSpaceOnUse" x1="141.0" y1="336.5" x2="124.2" y2="250.1"><stop offset="0" stop-color="#0068ff" stop-opacity="1.0"/><stop offset="0.45" stop-color="#0068ff" stop-opacity="0.55"/><stop offset="1" stop-color="#0068ff" stop-opacity="0"/></linearGradient><path d="M138.5,337.0 L103.6,254.1 L144.8,246.1 L143.5,336.0 Z" fill="url(#rg4)" filter="url(#b3)"/><linearGradient id="rg5" gradientUnits="userSpaceOnUse" x1="141.0" y1="336.5" x2="114.5" y2="294.1"><stop offset="0" stop-color="#0068ff" stop-opacity="1.0"/><stop offset="0.45" stop-color="#0068ff" stop-opacity="0.55"/><stop offset="1" stop-color="#0068ff" stop-opacity="0"/></linearGradient><path d="M138.9,337.8 L105.2,299.9 L123.8,288.3 L143.1,335.2 Z" fill="url(#rg5)" filter="url(#b3)"/><linearGradient id="rg6" gradientUnits="userSpaceOnUse" x1="141.0" y1="336.5" x2="152.6" y2="281.7"><stop offset="0" stop-color="#0068ff" stop-opacity="1.0"/><stop offset="0.45" stop-color="#0068ff" stop-opacity="0.55"/><stop offset="1" stop-color="#0068ff" stop-opacity="0"/></linearGradient><path d="M138.6,336.0 L141.9,279.4 L163.4,284.0 L143.4,337.0 Z" fill="url(#rg6)" filter="url(#b3)"/><path d="M98,358 Q118,362 139,341 L147,350 Q128,378 98,369 Z" fill="#0060ff" opacity="0.85" filter="url(#b5)"/><path d="M103,358 Q122,359 139,343 L143,349 Q124,368 103,363 Z" fill="#1090ff" opacity="0.8" filter="url(#b3)"/><linearGradient id="rg7" gradientUnits="userSpaceOnUse" x1="97.0" y1="356.0" x2="106.8" y2="319.3"><stop offset="0" stop-color="#18a8ff" stop-opacity="1.0"/><stop offset="0.45" stop-color="#18a8ff" stop-opacity="0.55"/><stop offset="1" stop-color="#18a8ff" stop-opacity="0"/></linearGradient><path d="M95.1,355.5 L98.1,317.0 L115.5,321.6 L98.9,356.5 Z" fill="url(#rg7)" filter="url(#b2)"/><linearGradient id="rg8" gradientUnits="userSpaceOnUse" x1="97.0" y1="356.0" x2="111.1" y2="336.6"><stop offset="0" stop-color="#18a8ff" stop-opacity="1.0"/><stop offset="0.45" stop-color="#18a8ff" stop-opacity="0.55"/><stop offset="1" stop-color="#18a8ff" stop-opacity="0"/></linearGradient><path d="M95.4,354.8 L107.1,333.6 L115.2,339.5 L98.6,357.2 Z" fill="url(#rg8)" filter="url(#b2)"/><linearGradient id="rg9" gradientUnits="userSpaceOnUse" x1="141.0" y1="336.5" x2="131.5" y2="287.4"><stop offset="0" stop-color="#18a8ff" stop-opacity="1.0"/><stop offset="0.45" stop-color="#18a8ff" stop-opacity="0.55"/><stop offset="1" stop-color="#18a8ff" stop-opacity="0"/></linearGradient><path d="M139.0,336.9 L121.6,289.3 L141.3,285.5 L143.0,336.1 Z" fill="url(#rg9)" filter="url(#b2)"/><linearGradient id="rg10" gradientUnits="userSpaceOnUse" x1="141.0" y1="336.5" x2="145.9" y2="308.9"><stop offset="0" stop-color="#18a8ff" stop-opacity="1.0"/><stop offset="0.45" stop-color="#18a8ff" stop-opacity="0.55"/><stop offset="1" stop-color="#18a8ff" stop-opacity="0"/></linearGradient><path d="M139.0,336.2 L140.9,308.1 L150.8,309.8 L143.0,336.8 Z" fill="url(#rg10)" filter="url(#b2)"/><linearGradient id="rg11" gradientUnits="userSpaceOnUse" x1="97.0" y1="356.0" x2="101.8" y2="336.6"><stop offset="0" stop-color="#40f0ff" stop-opacity="1.0"/><stop offset="0.45" stop-color="#40f0ff" stop-opacity="0.55"/><stop offset="1" stop-color="#40f0ff" stop-opacity="0"/></linearGradient><path d="M95.3,355.6 L97.5,335.5 L106.2,337.7 L98.7,356.4 Z" fill="url(#rg11)" filter="url(#b1)"/><linearGradient id="rg12" gradientUnits="userSpaceOnUse" x1="97.0" y1="356.0" x2="104.8" y2="344.4"><stop offset="0" stop-color="#40f0ff" stop-opacity="1.0"/><stop offset="0.45" stop-color="#40f0ff" stop-opacity="0.55"/><stop offset="1" stop-color="#40f0ff" stop-opacity="0"/></linearGradient><path d="M95.5,355.0 L102.8,343.0 L106.9,345.8 L98.5,357.0 Z" fill="url(#rg12)" filter="url(#b1)"/><linearGradient id="rg13" gradientUnits="userSpaceOnUse" x1="141.0" y1="336.5" x2="136.5" y2="310.9"><stop offset="0" stop-color="#40f0ff" stop-opacity="1.0"/><stop offset="0.45" stop-color="#40f0ff" stop-opacity="0.55"/><stop offset="1" stop-color="#40f0ff" stop-opacity="0"/></linearGradient><path d="M139.3,336.8 L131.6,311.8 L141.4,310.0 L142.7,336.2 Z" fill="url(#rg13)" filter="url(#b1)"/><linearGradient id="rg14" gradientUnits="userSpaceOnUse" x1="141.0" y1="336.5" x2="143.6" y2="321.7"><stop offset="0" stop-color="#40f0ff" stop-opacity="1.0"/><stop offset="0.45" stop-color="#40f0ff" stop-opacity="0.55"/><stop offset="1" stop-color="#40f0ff" stop-opacity="0"/></linearGradient><path d="M139.3,336.2 L141.1,321.3 L146.1,322.2 L142.7,336.8 Z" fill="url(#rg14)" filter="url(#b1)"/><linearGradient id="rg15" gradientUnits="userSpaceOnUse" x1="141.0" y1="338.5" x2="128.7" y2="348.8"><stop offset="0" stop-color="#30d8ff" stop-opacity="0.9"/><stop offset="0.45" stop-color="#30d8ff" stop-opacity="0.50"/><stop offset="1" stop-color="#30d8ff" stop-opacity="0"/></linearGradient><path d="M142.0,339.6 L131.0,351.5 L126.5,346.1 L140.0,337.4 Z" fill="url(#rg15)" filter="url(#b1)"/><linearGradient id="rg16" gradientUnits="userSpaceOnUse" x1="97.0" y1="357.0" x2="102.0" y2="365.7"><stop offset="0" stop-color="#30d8ff" stop-opacity="0.7"/><stop offset="0.45" stop-color="#30d8ff" stop-opacity="0.39"/><stop offset="1" stop-color="#30d8ff" stop-opacity="0"/></linearGradient><path d="M98.3,356.2 L105.5,363.7 L98.5,367.7 L95.7,357.8 Z" fill="url(#rg16)" filter="url(#b1)"/><path d="M54,366.2 L97.0,350.2 L95.2,359.4 L54,374.4 Z" fill="#fff"/><path d="M142.4,331.4 L186,314.6 L186,322.8 L145.0,339.4 Z" fill="#fff"/><ellipse cx="97.6" cy="355.6" rx="3.4" ry="5.6" fill="#30f0e0" opacity="0.9" filter="url(#b1)" transform="rotate(20 97.6 355.6)"/><ellipse cx="97.3" cy="357.4" rx="1.9" ry="3.6" fill="#b0ff40" opacity="0.95" filter="url(#b05)" transform="rotate(20 97.3 357.4)"/><ellipse cx="97.2" cy="357.8" rx="1.3" ry="2.7" fill="#ffb400" filter="url(#b05)" transform="rotate(20 97.2 357.8)"/><ellipse cx="97.3" cy="357.2" rx="0.7" ry="2.2" fill="#e00000" transform="rotate(20 97.3 357.2)"/><ellipse cx="140.6" cy="335.0" rx="2.8" ry="7.6" fill="#30f0e0" opacity="0.9" filter="url(#b1)" transform="rotate(8 140.6 335.4)"/><ellipse cx="141.0" cy="336.3" rx="1.4" ry="5.4" fill="#b0ff40" opacity="0.95" filter="url(#b05)" transform="rotate(8 141 336.3)"/><ellipse cx="141.3" cy="336.4" rx="0.85" ry="4.7" fill="#ffb400" filter="url(#b05)" transform="rotate(8 141.2 336.4)"/><path d="M142.1,332.0 Q140.7,336 141.9,340.4 Q142.5,336.6 142.1,332.0 Z" fill="#c80000" stroke="#c80000" stroke-width="0.5"/><path d="M54,366.2 L97.0,350.2 L95.2,359.4 L54,374.4 Z" fill="#fff"/><path d="M142.4,331.4 L186,314.6 L186,322.8 L145.0,339.4 Z" fill="#fff"/><path d="M93.0,351.6 Q98,358 108.5,362.6 Q117,366.6 125,367.6 Q131,368 136.2,366.2 Q142.5,363 145.4,357 Q148.4,350 147.6,344 Q147,338 144.0,332.6" fill="none" stroke="#0a0a48" stroke-width="0.55" opacity="0.8"/><path d="M97.4,350.5 Q102,353.6 108.5,356 Q117,358.8 125,359.3 Q131,359.4 136.2,357.8 Q141,355 143.5,349.5 Q145,345 145,340.3" fill="none" stroke="#0a0a48" stroke-width="0.55" opacity="0.8"/><path d="M136.3,357.8 L136.3,366.2" fill="none" stroke="#0a0a48" stroke-width="0.55" opacity="0.8"/><path d="M97.0,350.2 L95.2,359.4" fill="none" stroke="#0a0a48" stroke-width="0.55" opacity="0.8"/><path d="M142.4,331.4 Q143,336 145.0,339.4" fill="none" stroke="#0a0a48" stroke-width="0.55" opacity="0.8"/><path d="M89.0,395 L186,356.3" fill="none" stroke="#0a0a48" stroke-width="0.55" opacity="0.8"/></g>
<rect x="44.4" y="277.0" width="6.2" height="90.6" fill="url(#jet)"/><text x="41.20" y="294.50" font-size="10.4" text-anchor="end" fill="#111" >16</text><line x1="44.40" y1="290.60" x2="45.40" y2="290.60" stroke="#222" stroke-width="0.5" /><line x1="49.60" y1="290.60" x2="50.60" y2="290.60" stroke="#222" stroke-width="0.5" /><text x="41.20" y="322.70" font-size="10.4" text-anchor="end" fill="#111" >10</text><line x1="44.40" y1="318.80" x2="45.40" y2="318.80" stroke="#222" stroke-width="0.5" /><line x1="49.60" y1="318.80" x2="50.60" y2="318.80" stroke="#222" stroke-width="0.5" /><text x="41.20" y="350.10" font-size="10.4" text-anchor="end" fill="#111" >4</text><line x1="44.40" y1="346.20" x2="45.40" y2="346.20" stroke="#222" stroke-width="0.5" /><line x1="49.60" y1="346.20" x2="50.60" y2="346.20" stroke="#222" stroke-width="0.5" />
<g transform="translate(21.30,322.20) rotate(-90) scale(0.7719,1)"><text x="0" y="0" font-size="12" text-anchor="middle" fill="#111" style="stroke-width:0.32px">Shear rate (×10<tspan dy="-4.6" font-size="9">3</tspan><tspan dy="4.6"> s</tspan><tspan dy="-4.6" font-size="9">−1</tspan><tspan dy="4.6">)</tspan></text></g>
<line x1="37.20" y1="392.20" x2="30.80" y2="388.20" stroke="#1aa04a" stroke-width="0.95" /><line x1="37.20" y1="392.20" x2="43.40" y2="388.20" stroke="#dc1e3c" stroke-width="0.95" /><line x1="37.20" y1="392.20" x2="37.20" y2="385.00" stroke="#3c74b8" stroke-width="1.0" /><path d="M36.2,385.8 L38.2,385.8 L37.2,383.59999999999997 Z" fill="#1f5fb0"/><circle cx="43.400000000000006" cy="388.2" r="0.75" fill="#dc1e3c"/><circle cx="30.800000000000004" cy="388.2" r="0.75" fill="#1aa04a"/><text x="37.20" y="382.60" font-size="5.4" text-anchor="middle" fill="#333" class="ns" font-style="italic" font-weight="bold">z</text><text x="27.50" y="388.70" font-size="5.4" text-anchor="middle" fill="#333" class="ns" font-style="italic" font-weight="bold">y</text><text x="46.80" y="388.80" font-size="5.4" text-anchor="middle" fill="#333" class="ns" font-style="italic" font-weight="bold">x</text>
<g clip-path="url(#clipH)"><rect x="277" y="675" width="133" height="147" fill="url(#bgH)"/><ellipse cx="346" cy="752" rx="36" ry="36" fill="#0010f0" opacity="0.32" filter="url(#b8)"/><linearGradient id="rg17" gradientUnits="userSpaceOnUse" x1="325.2" y1="790.0" x2="365.5" y2="727.9"><stop offset="0" stop-color="#0020ff" stop-opacity="0.9"/><stop offset="0.45" stop-color="#0020ff" stop-opacity="0.50"/><stop offset="1" stop-color="#0020ff" stop-opacity="0"/></linearGradient><path d="M323.9,789.2 L356.3,721.9 L374.7,733.9 L326.5,790.8 Z" fill="url(#rg17)" filter="url(#b3)"/><linearGradient id="rg18" gradientUnits="userSpaceOnUse" x1="325.2" y1="790.0" x2="309.7" y2="742.4"><stop offset="0" stop-color="#0020ff" stop-opacity="0.9"/><stop offset="0.45" stop-color="#0020ff" stop-opacity="0.50"/><stop offset="1" stop-color="#0020ff" stop-opacity="0"/></linearGradient><path d="M323.8,790.5 L303.1,744.6 L316.4,740.3 L326.6,789.5 Z" fill="url(#rg18)" filter="url(#b3)"/><linearGradient id="rg19" gradientUnits="userSpaceOnUse" x1="325.2" y1="790.0" x2="333.0" y2="734.5"><stop offset="0" stop-color="#0020ff" stop-opacity="0.9"/><stop offset="0.45" stop-color="#0020ff" stop-opacity="0.50"/><stop offset="1" stop-color="#0020ff" stop-opacity="0"/></linearGradient><path d="M323.7,789.8 L328.0,733.8 L337.9,735.2 L326.7,790.2 Z" fill="url(#rg19)" filter="url(#b3)"/><linearGradient id="rg20" gradientUnits="userSpaceOnUse" x1="325.2" y1="790.0" x2="306.1" y2="779.0"><stop offset="0" stop-color="#0020ff" stop-opacity="0.9"/><stop offset="0.45" stop-color="#0020ff" stop-opacity="0.50"/><stop offset="1" stop-color="#0020ff" stop-opacity="0"/></linearGradient><path d="M324.4,791.3 L304.1,782.5 L308.1,775.5 L325.9,788.7 Z" fill="url(#rg20)" filter="url(#b3)"/><linearGradient id="rg21" gradientUnits="userSpaceOnUse" x1="325.2" y1="790.0" x2="347.5" y2="781.0"><stop offset="0" stop-color="#0020ff" stop-opacity="0.9"/><stop offset="0.45" stop-color="#0020ff" stop-opacity="0.50"/><stop offset="1" stop-color="#0020ff" stop-opacity="0"/></linearGradient><path d="M324.6,788.6 L346.0,777.3 L349.0,784.7 L325.8,791.4 Z" fill="url(#rg21)" filter="url(#b3)"/><linearGradient id="rg22" gradientUnits="userSpaceOnUse" x1="363.4" y1="775.4" x2="329.8" y2="709.5"><stop offset="0" stop-color="#0020ff" stop-opacity="0.9"/><stop offset="0.45" stop-color="#0020ff" stop-opacity="0.50"/><stop offset="1" stop-color="#0020ff" stop-opacity="0"/></linearGradient><path d="M362.1,776.1 L319.1,714.9 L340.5,704.0 L364.7,774.7 Z" fill="url(#rg22)" filter="url(#b3)"/><linearGradient id="rg23" gradientUnits="userSpaceOnUse" x1="363.4" y1="775.4" x2="395.5" y2="706.5"><stop offset="0" stop-color="#0020ff" stop-opacity="0.9"/><stop offset="0.45" stop-color="#0020ff" stop-opacity="0.50"/><stop offset="1" stop-color="#0020ff" stop-opacity="0"/></linearGradient><path d="M362.0,774.8 L384.6,701.4 L406.4,711.6 L364.8,776.0 Z" fill="url(#rg23)" filter="url(#b3)"/><linearGradient id="rg24" gradientUnits="userSpaceOnUse" x1="363.4" y1="775.4" x2="365.8" y2="705.4"><stop offset="0" stop-color="#0020ff" stop-opacity="0.9"/><stop offset="0.45" stop-color="#0020ff" stop-opacity="0.50"/><stop offset="1" stop-color="#0020ff" stop-opacity="0"/></linearGradient><path d="M361.9,775.3 L360.8,705.3 L370.8,705.6 L364.9,775.5 Z" fill="url(#rg24)" filter="url(#b3)"/><linearGradient id="rg25" gradientUnits="userSpaceOnUse" x1="363.4" y1="775.4" x2="393.1" y2="748.6"><stop offset="0" stop-color="#0020ff" stop-opacity="0.9"/><stop offset="0.45" stop-color="#0020ff" stop-opacity="0.50"/><stop offset="1" stop-color="#0020ff" stop-opacity="0"/></linearGradient><path d="M362.4,774.3 L389.8,744.9 L396.5,752.4 L364.4,776.5 Z" fill="url(#rg25)" filter="url(#b3)"/><linearGradient id="rg26" gradientUnits="userSpaceOnUse" x1="363.4" y1="775.4" x2="344.6" y2="768.6"><stop offset="0" stop-color="#0020ff" stop-opacity="0.9"/><stop offset="0.45" stop-color="#0020ff" stop-opacity="0.50"/><stop offset="1" stop-color="#0020ff" stop-opacity="0"/></linearGradient><path d="M362.9,776.8 L343.2,772.3 L346.0,764.8 L363.9,774.0 Z" fill="url(#rg26)" filter="url(#b3)"/><linearGradient id="rg27" gradientUnits="userSpaceOnUse" x1="325.2" y1="790.0" x2="319.5" y2="811.3"><stop offset="0" stop-color="#0038ff" stop-opacity="0.9"/><stop offset="0.45" stop-color="#0038ff" stop-opacity="0.50"/><stop offset="1" stop-color="#0038ff" stop-opacity="0"/></linearGradient><path d="M326.6,790.4 L324.3,812.5 L314.7,810.0 L323.8,789.6 Z" fill="url(#rg27)" filter="url(#b2)"/><linearGradient id="rg28" gradientUnits="userSpaceOnUse" x1="325.2" y1="790.0" x2="337.4" y2="813.0"><stop offset="0" stop-color="#0038ff" stop-opacity="0.9"/><stop offset="0.45" stop-color="#0038ff" stop-opacity="0.50"/><stop offset="1" stop-color="#0038ff" stop-opacity="0"/></linearGradient><path d="M326.5,789.3 L343.6,809.7 L331.2,816.2 L323.9,790.7 Z" fill="url(#rg28)" filter="url(#b2)"/><linearGradient id="rg29" gradientUnits="userSpaceOnUse" x1="325.2" y1="790.0" x2="313.1" y2="797.0"><stop offset="0" stop-color="#0038ff" stop-opacity="0.9"/><stop offset="0.45" stop-color="#0038ff" stop-opacity="0.50"/><stop offset="1" stop-color="#0038ff" stop-opacity="0"/></linearGradient><path d="M325.9,791.3 L315.1,800.5 L311.1,793.5 L324.4,788.7 Z" fill="url(#rg29)" filter="url(#b2)"/><linearGradient id="rg30" gradientUnits="userSpaceOnUse" x1="363.4" y1="775.4" x2="367.2" y2="797.1"><stop offset="0" stop-color="#0038ff" stop-opacity="0.8"/><stop offset="0.45" stop-color="#0038ff" stop-opacity="0.44"/><stop offset="1" stop-color="#0038ff" stop-opacity="0"/></linearGradient><path d="M364.9,775.1 L374.1,795.9 L360.3,798.3 L361.9,775.7 Z" fill="url(#rg30)" filter="url(#b2)"/><linearGradient id="rg31" gradientUnits="userSpaceOnUse" x1="363.4" y1="775.4" x2="378.1" y2="785.7"><stop offset="0" stop-color="#0038ff" stop-opacity="0.8"/><stop offset="0.45" stop-color="#0038ff" stop-opacity="0.44"/><stop offset="1" stop-color="#0038ff" stop-opacity="0"/></linearGradient><path d="M364.3,774.2 L381.0,781.6 L375.3,789.8 L362.5,776.6 Z" fill="url(#rg31)" filter="url(#b2)"/><linearGradient id="rg32" gradientUnits="userSpaceOnUse" x1="325.2" y1="790.0" x2="345.3" y2="760.2"><stop offset="0" stop-color="#1070ff" stop-opacity="1.0"/><stop offset="0.45" stop-color="#1070ff" stop-opacity="0.55"/><stop offset="1" stop-color="#1070ff" stop-opacity="0"/></linearGradient><path d="M324.4,789.4 L342.0,757.9 L348.6,762.4 L326.0,790.6 Z" fill="url(#rg32)" filter="url(#b1)"/><linearGradient id="rg33" gradientUnits="userSpaceOnUse" x1="325.2" y1="790.0" x2="330.5" y2="756.4"><stop offset="0" stop-color="#1070ff" stop-opacity="1.0"/><stop offset="0.45" stop-color="#1070ff" stop-opacity="0.55"/><stop offset="1" stop-color="#1070ff" stop-opacity="0"/></linearGradient><path d="M324.2,789.8 L328.0,756.0 L333.0,756.8 L326.2,790.2 Z" fill="url(#rg33)" filter="url(#b1)"/><linearGradient id="rg34" gradientUnits="userSpaceOnUse" x1="325.2" y1="790.0" x2="317.6" y2="765.1"><stop offset="0" stop-color="#1070ff" stop-opacity="1.0"/><stop offset="0.45" stop-color="#1070ff" stop-opacity="0.55"/><stop offset="1" stop-color="#1070ff" stop-opacity="0"/></linearGradient><path d="M324.2,790.3 L315.2,765.9 L320.0,764.4 L326.2,789.7 Z" fill="url(#rg34)" filter="url(#b1)"/><linearGradient id="rg35" gradientUnits="userSpaceOnUse" x1="363.4" y1="775.4" x2="347.9" y2="740.7"><stop offset="0" stop-color="#1070ff" stop-opacity="1.0"/><stop offset="0.45" stop-color="#1070ff" stop-opacity="0.55"/><stop offset="1" stop-color="#1070ff" stop-opacity="0"/></linearGradient><path d="M362.5,775.8 L344.3,742.3 L351.6,739.1 L364.3,775.0 Z" fill="url(#rg35)" filter="url(#b1)"/><linearGradient id="rg36" gradientUnits="userSpaceOnUse" x1="363.4" y1="775.4" x2="365.3" y2="739.4"><stop offset="0" stop-color="#1070ff" stop-opacity="1.0"/><stop offset="0.45" stop-color="#1070ff" stop-opacity="0.55"/><stop offset="1" stop-color="#1070ff" stop-opacity="0"/></linearGradient><path d="M362.4,775.3 L362.8,739.3 L367.8,739.6 L364.4,775.5 Z" fill="url(#rg36)" filter="url(#b1)"/><linearGradient id="rg37" gradientUnits="userSpaceOnUse" x1="363.4" y1="775.4" x2="378.0" y2="742.5"><stop offset="0" stop-color="#1070ff" stop-opacity="1.0"/><stop offset="0.45" stop-color="#1070ff" stop-opacity="0.55"/><stop offset="1" stop-color="#1070ff" stop-opacity="0"/></linearGradient><path d="M362.5,775.0 L374.4,740.9 L381.7,744.1 L364.3,775.8 Z" fill="url(#rg37)" filter="url(#b1)"/><linearGradient id="rg38" gradientUnits="userSpaceOnUse" x1="325.2" y1="790.0" x2="333.1" y2="777.3"><stop offset="0" stop-color="#60e8ff" stop-opacity="1.0"/><stop offset="0.45" stop-color="#60e8ff" stop-opacity="0.55"/><stop offset="1" stop-color="#60e8ff" stop-opacity="0"/></linearGradient><path d="M324.5,789.6 L331.7,776.4 L334.6,778.2 L325.9,790.4 Z" fill="url(#rg38)" filter="url(#b05)"/><linearGradient id="rg39" gradientUnits="userSpaceOnUse" x1="325.2" y1="790.0" x2="327.1" y2="776.1"><stop offset="0" stop-color="#60e8ff" stop-opacity="1.0"/><stop offset="0.45" stop-color="#60e8ff" stop-opacity="0.55"/><stop offset="1" stop-color="#60e8ff" stop-opacity="0"/></linearGradient><path d="M324.4,789.9 L325.9,776.0 L328.4,776.3 L326.0,790.1 Z" fill="url(#rg39)" filter="url(#b05)"/><linearGradient id="rg40" gradientUnits="userSpaceOnUse" x1="363.4" y1="775.4" x2="358.3" y2="761.3"><stop offset="0" stop-color="#60e8ff" stop-opacity="1.0"/><stop offset="0.45" stop-color="#60e8ff" stop-opacity="0.55"/><stop offset="1" stop-color="#60e8ff" stop-opacity="0"/></linearGradient><path d="M362.6,775.7 L356.6,761.9 L359.9,760.7 L364.2,775.1 Z" fill="url(#rg40)" filter="url(#b05)"/><linearGradient id="rg41" gradientUnits="userSpaceOnUse" x1="363.4" y1="775.4" x2="364.4" y2="760.4"><stop offset="0" stop-color="#60e8ff" stop-opacity="1.0"/><stop offset="0.45" stop-color="#60e8ff" stop-opacity="0.55"/><stop offset="1" stop-color="#60e8ff" stop-opacity="0"/></linearGradient><path d="M362.6,775.3 L363.2,760.3 L365.7,760.5 L364.2,775.5 Z" fill="url(#rg41)" filter="url(#b05)"/><linearGradient id="rg42" gradientUnits="userSpaceOnUse" x1="363.4" y1="775.4" x2="368.3" y2="763.3"><stop offset="0" stop-color="#60e8ff" stop-opacity="1.0"/><stop offset="0.45" stop-color="#60e8ff" stop-opacity="0.55"/><stop offset="1" stop-color="#60e8ff" stop-opacity="0"/></linearGradient><path d="M362.7,775.1 L366.9,762.8 L369.7,763.9 L364.1,775.7 Z" fill="url(#rg42)" filter="url(#b05)"/><ellipse cx="344" cy="794" rx="24" ry="15" fill="#0040ff" opacity="0.85" filter="url(#b5)" transform="rotate(-20 344 794)"/><path d="M328,793 Q343,779 361,775 Q364,786 351,794 Q338,801 329,798 Z" fill="#18b8ff" opacity="0.95" filter="url(#b3)"/><path d="M333,793 Q346,783 358,779 Q357,787 347,792 Q339,796 333,795 Z" fill="#70fff0" opacity="0.95" filter="url(#b2)"/><ellipse cx="325.2" cy="790.0" rx="2.4" ry="4.4" fill="#30f0f0" opacity="0.9" filter="url(#b1)" transform="rotate(35 325.2 790.0)"/><ellipse cx="325.2" cy="790.0" rx="1.3" ry="3.0" fill="#d0ff60" filter="url(#b05)" transform="rotate(35 325.2 790.0)"/><ellipse cx="325.2" cy="790.0" rx="0.8" ry="2.0" fill="#ffb000" filter="url(#b05)" transform="rotate(35 325.2 790.0)"/><ellipse cx="325.2" cy="790.0" rx="0.45" ry="1.1" fill="#f02000" transform="rotate(35 325.2 790.0)"/><ellipse cx="363.4" cy="775.4" rx="2.4" ry="4.4" fill="#30f0f0" opacity="0.9" filter="url(#b1)" transform="rotate(35 363.4 775.4)"/><ellipse cx="363.4" cy="775.4" rx="1.3" ry="3.0" fill="#d0ff60" filter="url(#b05)" transform="rotate(35 363.4 775.4)"/><ellipse cx="363.4" cy="775.4" rx="0.8" ry="2.0" fill="#ffb000" filter="url(#b05)" transform="rotate(35 363.4 775.4)"/><ellipse cx="363.4" cy="775.4" rx="0.45" ry="1.1" fill="#f02000" transform="rotate(35 363.4 775.4)"/><path d="M278,801.8 L324.2,785.2 L322.8,793.0 L278,809.6 Z" fill="#fff"/><path d="M363.2,769.6 L409,752.4 L409,760 L364.6,776.6 Z" fill="#fff"/><path d="M320.2,786.7 Q324,793 330.3,796.9 Q338,800.8 345.5,800.7 Q354,800 360.8,795.6 Q365.6,791 367.1,784.2 Q367.6,777 363.2,769.6" fill="none" stroke="#0a0a48" stroke-width="0.55" opacity="0.8"/><path d="M326.5,788 Q332,791.5 338,793 Q346,793.8 350.6,791.8 Q358,788.4 360.8,786.7 Q364,783.5 364.6,779" fill="none" stroke="#0a0a48" stroke-width="0.55" opacity="0.8"/><path d="M358.5,788.5 L358.5,796.5" fill="none" stroke="#0a0a48" stroke-width="0.55" opacity="0.8"/><path d="M324.2,785.2 L322.8,793" fill="none" stroke="#0a0a48" stroke-width="0.55" opacity="0.8"/><path d="M363.2,769.6 L364.6,776.6" fill="none" stroke="#0a0a48" stroke-width="0.55" opacity="0.8"/><path d="M327.8,822 L409,788" fill="none" stroke="#0a0a48" stroke-width="0.55" opacity="0.8"/></g>
<rect x="267.0" y="703.4" width="6.0" height="90.8" fill="url(#jet)"/><text x="263.40" y="721.90" font-size="10.4" text-anchor="end" fill="#111" >3</text><line x1="267.00" y1="718.00" x2="268.00" y2="718.00" stroke="#222" stroke-width="0.5" /><line x1="272.00" y1="718.00" x2="273.00" y2="718.00" stroke="#222" stroke-width="0.5" /><text x="263.40" y="750.10" font-size="10.4" text-anchor="end" fill="#111" >2</text><line x1="267.00" y1="746.20" x2="268.00" y2="746.20" stroke="#222" stroke-width="0.5" /><line x1="272.00" y1="746.20" x2="273.00" y2="746.20" stroke="#222" stroke-width="0.5" /><text x="263.40" y="778.10" font-size="10.4" text-anchor="end" fill="#111" >1</text><line x1="267.00" y1="774.20" x2="268.00" y2="774.20" stroke="#222" stroke-width="0.5" /><line x1="272.00" y1="774.20" x2="273.00" y2="774.20" stroke="#222" stroke-width="0.5" />
<g transform="translate(247.90,749.40) rotate(-90) scale(0.7564,1)"><text x="0" y="0" font-size="12" text-anchor="middle" fill="#111" style="stroke-width:0.32px">Elongational flow (×10<tspan dy="-4.6" font-size="9">3</tspan><tspan dy="4.6"> s</tspan><tspan dy="-4.6" font-size="9">−1</tspan><tspan dy="4.6">)</tspan></text></g>
<line x1="260.10" y1="818.60" x2="253.70" y2="814.60" stroke="#1aa04a" stroke-width="0.95" /><line x1="260.10" y1="818.60" x2="266.30" y2="814.60" stroke="#dc1e3c" stroke-width="0.95" /><line x1="260.10" y1="818.60" x2="260.10" y2="811.40" stroke="#3c74b8" stroke-width="1.0" /><path d="M259.1,812.2 L261.1,812.2 L260.1,810.0 Z" fill="#1f5fb0"/><circle cx="266.3" cy="814.6" r="0.75" fill="#dc1e3c"/><circle cx="253.70000000000002" cy="814.6" r="0.75" fill="#1aa04a"/><text x="260.10" y="809.00" font-size="5.4" text-anchor="middle" fill="#333" class="ns" font-style="italic" font-weight="bold">z</text><text x="250.40" y="815.10" font-size="5.4" text-anchor="middle" fill="#333" class="ns" font-style="italic" font-weight="bold">y</text><text x="269.70" y="815.20" font-size="5.4" text-anchor="middle" fill="#333" class="ns" font-style="italic" font-weight="bold">x</text>
<g transform="translate(0,0)"><g><path d="M188.4,279.7 L255.6,255.6 A6,8.4 -20 0 1 261.4,271.2 L194.2,295.3 A6,8.4 -20 0 1 188.4,279.7 Z" fill="#8c8cf4" opacity="0.92"/><ellipse cx="191.3" cy="287.5" rx="4.2" ry="8.3" transform="rotate(-20 191.3 287.5)" fill="#a0a0f8" stroke="#7474e0" stroke-width="0.5"/><path d="M190,283 L257,259" stroke="#a4a4fa" stroke-width="0.6" fill="none"/><path d="M193,292 L260,268" stroke="#7c7cea" stroke-width="0.6" fill="none"/><ellipse cx="224.5" cy="268.6" rx="3" ry="1.4" transform="rotate(-20 224.5 268.6)" fill="none" stroke="#7070d0" stroke-width="0.5"/></g><path d="M210.1,256.3 L237.7,245.2 L238.2,270.5 L210.5,282.5 Z" fill="#e87e9a" opacity="0.62"/><line x1="197.90" y1="268.50" x2="191.50" y2="264.50" stroke="#1aa04a" stroke-width="0.95" /><line x1="197.90" y1="268.50" x2="204.10" y2="264.50" stroke="#dc1e3c" stroke-width="0.95" /><line x1="197.90" y1="268.50" x2="197.90" y2="261.30" stroke="#3c74b8" stroke-width="1.0" /><path d="M196.9,262.1 L198.9,262.1 L197.9,259.9 Z" fill="#1f5fb0"/><circle cx="204.1" cy="264.5" r="0.75" fill="#dc1e3c"/><circle cx="191.5" cy="264.5" r="0.75" fill="#1aa04a"/><text x="197.90" y="258.90" font-size="5.4" text-anchor="middle" fill="#333" class="ns" font-style="italic" font-weight="bold">z</text><text x="188.20" y="265.00" font-size="5.4" text-anchor="middle" fill="#333" class="ns" font-style="italic" font-weight="bold">y</text><text x="207.50" y="265.10" font-size="5.4" text-anchor="middle" fill="#333" class="ns" font-style="italic" font-weight="bold">x</text><path d="M187.8,382.4 L187.8,299.7 L273.4,299.7 L273.4,349.0" stroke="#7a7a7a" stroke-width="0.8" fill="none"/><path d="M273.4,354.4 L273.4,394.3 L187.8,394.3 L187.8,388.0" stroke="#7a7a7a" stroke-width="0.8" fill="none"/><path d="M187.8,382.4 L216.5,370.4" stroke="#7a7a7a" stroke-width="0.8" fill="none"/><path d="M187.8,388.0 L218.0,375.6" stroke="#7a7a7a" stroke-width="0.8" fill="none"/><path d="M245.4,361.6 L273.4,349.0" stroke="#7a7a7a" stroke-width="0.8" fill="none"/><path d="M246.6,367.2 L273.4,354.4" stroke="#7a7a7a" stroke-width="0.8" fill="none"/><ellipse cx="232.8" cy="370.2" rx="16.0" ry="10.0" transform="rotate(10 232.8 370.2)" fill="none" stroke="#888" stroke-width="0.7" stroke-dasharray="1.2 1.4"/><ellipse cx="231.2" cy="366.0" rx="16.2" ry="10.2" transform="rotate(12 231.2 366)" fill="none" stroke="#111" stroke-width="1.1"/><line x1="230.40" y1="372.40" x2="230.40" y2="346.00" stroke="#000" stroke-width="1.3" /><path d="M226.7,347.0 L234.1,347.0 L230.4,341.0 Z" fill="#000"/><line x1="240.20" y1="382.90" x2="266.60" y2="372.70" stroke="#000" stroke-width="1.3" /><path d="M270.2,371.2 L264.0,370.0 L266.4,376.2 Z" fill="#000"/><text x="230.40" y="333.90" font-size="10.0" text-anchor="middle" fill="#111" >External space</text><text x="230.20" y="392.70" font-size="10.6" text-anchor="middle" fill="#111" >Blood flow</text><text transform="translate(190.0,386.6) rotate(-23.5)" font-size="9.0" font-weight="bold" fill="#000">Vessel</text><text transform="translate(249.4,364.0) rotate(-24)" font-size="9.0" font-weight="bold" fill="#000">wall</text></g>
<g transform="translate(226.5,427.1)"><g><path d="M188.4,279.7 L255.6,255.6 A6,8.4 -20 0 1 261.4,271.2 L194.2,295.3 A6,8.4 -20 0 1 188.4,279.7 Z" fill="#8c8cf4" opacity="0.92"/><ellipse cx="191.3" cy="287.5" rx="4.2" ry="8.3" transform="rotate(-20 191.3 287.5)" fill="#a0a0f8" stroke="#7474e0" stroke-width="0.5"/><path d="M190,283 L257,259" stroke="#a4a4fa" stroke-width="0.6" fill="none"/><path d="M193,292 L260,268" stroke="#7c7cea" stroke-width="0.6" fill="none"/><ellipse cx="224.5" cy="268.6" rx="3" ry="1.4" transform="rotate(-20 224.5 268.6)" fill="none" stroke="#7070d0" stroke-width="0.5"/></g><path d="M210.1,256.3 L237.7,245.2 L238.2,270.5 L210.5,282.5 Z" fill="#e87e9a" opacity="0.62"/><line x1="194.70" y1="267.20" x2="188.30" y2="263.20" stroke="#1aa04a" stroke-width="0.95" /><line x1="194.70" y1="267.20" x2="200.90" y2="263.20" stroke="#dc1e3c" stroke-width="0.95" /><line x1="194.70" y1="267.20" x2="194.70" y2="260.00" stroke="#3c74b8" stroke-width="1.0" /><path d="M193.7,260.8 L195.7,260.8 L194.7,258.59999999999997 Z" fill="#1f5fb0"/><circle cx="200.89999999999998" cy="263.2" r="0.75" fill="#dc1e3c"/><circle cx="188.29999999999998" cy="263.2" r="0.75" fill="#1aa04a"/><text x="194.70" y="257.60" font-size="5.4" text-anchor="middle" fill="#333" class="ns" font-style="italic" font-weight="bold">z</text><text x="185.00" y="263.70" font-size="5.4" text-anchor="middle" fill="#333" class="ns" font-style="italic" font-weight="bold">y</text><text x="204.30" y="263.80" font-size="5.4" text-anchor="middle" fill="#333" class="ns" font-style="italic" font-weight="bold">x</text><path d="M187.8,382.4 L187.8,299.7 L273.4,299.7 L273.4,349.0" stroke="#7a7a7a" stroke-width="0.8" fill="none"/><path d="M273.4,354.4 L273.4,394.3 L187.8,394.3 L187.8,388.0" stroke="#7a7a7a" stroke-width="0.8" fill="none"/><path d="M187.8,382.4 L216.5,370.4" stroke="#7a7a7a" stroke-width="0.8" fill="none"/><path d="M187.8,388.0 L218.0,375.6" stroke="#7a7a7a" stroke-width="0.8" fill="none"/><path d="M245.4,361.6 L273.4,349.0" stroke="#7a7a7a" stroke-width="0.8" fill="none"/><path d="M246.6,367.2 L273.4,354.4" stroke="#7a7a7a" stroke-width="0.8" fill="none"/><ellipse cx="232.8" cy="370.2" rx="16.0" ry="10.0" transform="rotate(10 232.8 370.2)" fill="none" stroke="#888" stroke-width="0.7" stroke-dasharray="1.2 1.4"/><ellipse cx="231.2" cy="366.0" rx="16.2" ry="10.2" transform="rotate(12 231.2 366)" fill="none" stroke="#111" stroke-width="1.1"/><line x1="230.40" y1="372.40" x2="230.40" y2="346.00" stroke="#000" stroke-width="1.3" /><path d="M226.7,347.0 L234.1,347.0 L230.4,341.0 Z" fill="#000"/><line x1="240.20" y1="382.90" x2="266.60" y2="372.70" stroke="#000" stroke-width="1.3" /><path d="M270.2,371.2 L264.0,370.0 L266.4,376.2 Z" fill="#000"/><text x="230.40" y="333.90" font-size="10.0" text-anchor="middle" fill="#111" >External space</text><text x="230.20" y="392.70" font-size="10.6" text-anchor="middle" fill="#111" >Blood flow</text><text transform="translate(190.0,386.6) rotate(-23.5)" font-size="9.0" font-weight="bold" fill="#000">Vessel</text><text transform="translate(249.4,364.0) rotate(-24)" font-size="9.0" font-weight="bold" fill="#000">wall</text></g>
<text x="283.8" y="448.2" font-size="12.6" text-anchor="middle" fill="#111">Geometry:</text>
<line x1="254.60" y1="449.60" x2="313.00" y2="449.60" stroke="#111" stroke-width="0.9" />
<text x="283.60" y="463.20" font-size="12.6" text-anchor="middle" fill="#111" >Circle</text>
<path d="M246.2,467.2 L318.40000000000003,467.2 Q320.5,481.9 318.40000000000003,496.6 L246.2,496.6 Q244.1,481.9 246.2,467.2 Z" fill="#8686f0"/><line x1="245.50" y1="472.49" x2="319.10" y2="472.49" stroke="#9696f6" stroke-width="0.5" /><line x1="245.50" y1="477.78" x2="319.10" y2="477.78" stroke="#8e8ef3" stroke-width="0.5" /><line x1="245.50" y1="486.02" x2="319.10" y2="486.02" stroke="#8080ec" stroke-width="0.5" /><line x1="245.50" y1="491.31" x2="319.10" y2="491.31" stroke="#7a7ae8" stroke-width="0.5" />
<circle cx="282.2" cy="482.0" r="4.5" fill="none" stroke="#1c1c50" stroke-width="1.0"/>
<text x="283.40" y="510.10" font-size="12.3" text-anchor="middle" fill="#111" >Ellipse</text>
<path d="M246.2,514.2 L318.40000000000003,514.2 Q320.5,528.4000000000001 318.40000000000003,542.6 L246.2,542.6 Q244.1,528.4000000000001 246.2,514.2 Z" fill="#8686f0"/><line x1="245.50" y1="519.31" x2="319.10" y2="519.31" stroke="#9696f6" stroke-width="0.5" /><line x1="245.50" y1="524.42" x2="319.10" y2="524.42" stroke="#8e8ef3" stroke-width="0.5" /><line x1="245.50" y1="532.38" x2="319.10" y2="532.38" stroke="#8080ec" stroke-width="0.5" /><line x1="245.50" y1="537.49" x2="319.10" y2="537.49" stroke="#7a7ae8" stroke-width="0.5" />
<ellipse cx="282.2" cy="528.4" rx="6.2" ry="3.5" fill="none" stroke="#1c1c50" stroke-width="1.05"/>
<line x1="249.30" y1="510.90" x2="249.30" y2="503.70" stroke="#1aa04a" stroke-width="0.9" /><path d="M248.20000000000002,504.29999999999995 L250.4,504.29999999999995 L249.3,501.9 Z" fill="#1aa04a"/><line x1="249.30" y1="510.90" x2="256.50" y2="510.90" stroke="#e0203a" stroke-width="0.9" /><circle cx="256.7" cy="510.9" r="0.8" fill="#e0203a"/>
<circle cx="249.3" cy="510.9" r="0.9" fill="#1f5fb0"/>
<text x="249.30" y="501.60" font-size="5.8" text-anchor="middle" fill="#222" class="ns">y</text>
<text x="245.20" y="512.80" font-size="5.8" text-anchor="middle" fill="#222" class="ns">z</text>
<text x="260.80" y="512.80" font-size="5.8" text-anchor="middle" fill="#222" class="ns">x</text>
<text x="283.50" y="557.30" font-size="12.6" text-anchor="middle" fill="#111" >Borders:</text>
<line x1="259.80" y1="558.80" x2="307.30" y2="558.80" stroke="#111" stroke-width="0.9" />
<path d="M257.9,582.7 L303.4,565.8 A3.8,5.7 -20 0 1 307.3,576.5 L261.8,593.4 A3.8,5.7 -20 0 1 257.9,582.7 Z" fill="#8a8af3" opacity="0.96"/>
<ellipse cx="259.9" cy="588.0" rx="2.7" ry="5.6" transform="rotate(-20 259.9 588)" fill="#9c9cf7" stroke="#7474e0" stroke-width="0.5"/>
<path d="M259.5,585.4 L305,568.4" stroke="#9e9ef8" stroke-width="0.5" fill="none"/><path d="M261,591 L306.5,574" stroke="#7c7cea" stroke-width="0.5" fill="none"/>
<path d="M277.9,570 L286.5,575.4 L286.5,589.8 L278.1,583.6 Z" fill="#f08a9a" opacity="0.7"/>
<line x1="261.60" y1="576.60" x2="255.20" y2="572.60" stroke="#1aa04a" stroke-width="0.95" /><line x1="261.60" y1="576.60" x2="267.80" y2="572.60" stroke="#dc1e3c" stroke-width="0.95" /><line x1="261.60" y1="576.60" x2="261.60" y2="569.40" stroke="#3c74b8" stroke-width="1.0" /><path d="M260.6,570.2 L262.6,570.2 L261.6,568.0 Z" fill="#1f5fb0"/><circle cx="267.8" cy="572.6" r="0.75" fill="#dc1e3c"/><circle cx="255.20000000000002" cy="572.6" r="0.75" fill="#1aa04a"/><text x="261.60" y="567.00" font-size="5.4" text-anchor="middle" fill="#333" class="ns" font-style="italic" font-weight="bold">z</text><text x="251.90" y="573.10" font-size="5.4" text-anchor="middle" fill="#333" class="ns" font-style="italic" font-weight="bold">y</text><text x="271.20" y="573.20" font-size="5.4" text-anchor="middle" fill="#333" class="ns" font-style="italic" font-weight="bold">x</text>
<rect x="257.2" y="598.9" width="6.2" height="1.7" fill="#111"/>
<rect x="303.4" y="598.0" width="7.0" height="1.5" fill="#111"/><rect x="306.15" y="595.2" width="1.5" height="7.0" fill="#111"/>
<circle cx="260.4" cy="621.2" r="16.3" fill="#8888f2"/><circle cx="260.4" cy="621.2" r="14.0" fill="none" stroke="#9c9cf8" stroke-width="0.6"/><circle cx="260.4" cy="623.8000000000001" r="12.4" fill="#9a9af6"/><circle cx="260.4" cy="624.4000000000001" r="10.9" fill="#fff"/>
<circle cx="306.9" cy="621.2" r="16.3" fill="#8888f2"/><circle cx="306.9" cy="621.2" r="14.0" fill="none" stroke="#9c9cf8" stroke-width="0.6"/><circle cx="306.9" cy="623.8000000000001" r="12.4" fill="#9a9af6"/><circle cx="306.9" cy="624.4000000000001" r="10.9" fill="#fff"/>
<path d="M254.4,613.9 Q260.4,611.4 266.4,613.9" fill="none" stroke="#151540" stroke-width="1.15"/>
<path d="M300.9,613.9 Q300.6,610.6 306.8,610.4 Q313,610.6 312.7,613.9 Q306.8,614.6 300.9,613.9 Z" fill="none" stroke="#151540" stroke-width="1.1"/>
<line x1="306.90" y1="610.00" x2="306.90" y2="614.60" stroke="#151540" stroke-width="0.8" />
<line x1="287.30" y1="638.60" x2="287.30" y2="631.40" stroke="#1f5fb0" stroke-width="0.9" /><path d="M286.2,632.0 L288.40000000000003,632.0 L287.3,629.6 Z" fill="#1f5fb0"/><line x1="287.30" y1="638.60" x2="280.30" y2="638.60" stroke="#1aa04a" stroke-width="0.9" /><circle cx="280.1" cy="638.6" r="0.8" fill="#1aa04a"/>
<circle cx="287.3" cy="638.6" r="0.9" fill="#e0203a"/>
<text x="287.30" y="629.40" font-size="5.8" text-anchor="middle" fill="#222" class="ns">z</text>
<text x="277.20" y="640.20" font-size="5.8" text-anchor="middle" fill="#222" class="ns">y</text>
<text x="291.80" y="640.40" font-size="5.8" text-anchor="middle" fill="#222" class="ns">x</text>
<rect x="0" y="0" width="1.5" height="866" fill="#000"/><rect x="518.3" y="0" width="1.7" height="866" fill="#000"/>
<rect x="0" y="0" width="520" height="1.45" fill="#000"/><rect x="0" y="864.4" width="520" height="1.6" fill="#000"/></svg></body></html>
